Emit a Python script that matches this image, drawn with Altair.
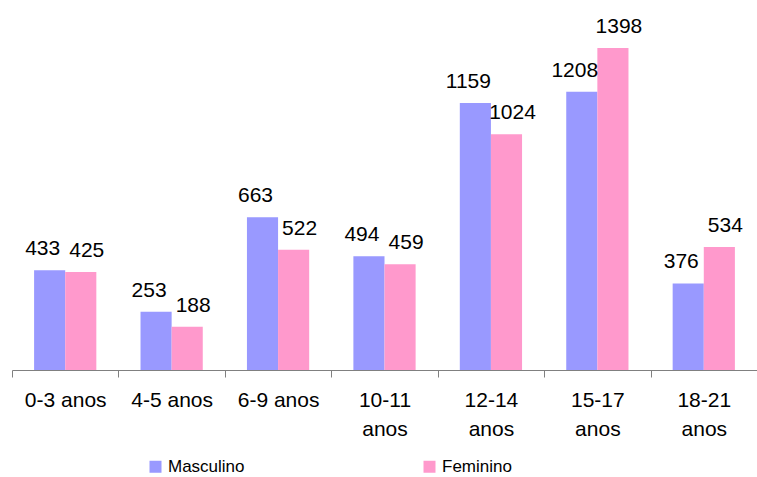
import altair as alt
import pandas as pd

# Age groups and counts per sex
faixas = ["0-3 anos", "4-5 anos", "6-9 anos", "10-11 anos", "12-14 anos", "15-17 anos", "18-21 anos"]
masculino = [433, 253, 663, 494, 1159, 1208, 376]
feminino = [425, 188, 522, 459, 1024, 1398, 534]
series = ["Masculino", "Feminino"]
cores = ["#9999FF", "#FF99CC"]

rows = []
for f, m, w in zip(faixas, masculino, feminino):
    rows.append({"faixa": f, "sexo": "Masculino", "valor": m})
    rows.append({"faixa": f, "sexo": "Feminino", "valor": w})
df = pd.DataFrame(rows)

FONT = "Liberation Sans"

# Full-width bands so the ticks sit on the category boundaries;
# the gap between groups comes from the offset scale's outer padding.
x = alt.X(
    "faixa:N",
    sort=faixas,
    title=None,
    scale=alt.Scale(paddingInner=0, paddingOuter=0),
    axis=alt.Axis(
        labelAngle=0,
        tickBand="extent",
        tickSize=7,
        tickColor="#808080",
        domainColor="#808080",
        labelFontSize=21,
        labelColor="#000000",
        labelPadding=12,
        labelLineHeight=29,
        labelExpr="length(datum.label) > 8 ? split(datum.label, ' ') : datum.label",
    ),
)
xo = alt.XOffset("sexo:N", sort=series, scale=alt.Scale(paddingInner=0, paddingOuter=0.71))
y = alt.Y("valor:Q", axis=None, scale=alt.Scale(domain=[0, 1563], nice=False, zero=True))

bars = alt.Chart(df).mark_bar().encode(
    x=x,
    xOffset=xo,
    y=y,
    color=alt.Color(
        "sexo:N",
        sort=series,
        scale=alt.Scale(domain=series, range=cores),
        legend=alt.Legend(
            title=None,
            orient="none",
            legendX=135,
            legendY=448,
            direction="horizontal",
            symbolType="square",
            symbolSize=144,
            symbolStrokeWidth=0,
            labelFontSize=17,
            labelOffset=4,
            columnPadding=176,
            padding=0,
        ),
    ),
)

def labels(sexo, dx):
    return (
        alt.Chart(df)
        .transform_filter(alt.datum.sexo == sexo)
        .mark_text(baseline="bottom", dy=-11, dx=dx, fontSize=21, color="#000000", font=FONT)
        .encode(x=x, xOffset=xo, y=y, text=alt.Text("valor:Q"))
    )

chart = (
    alt.layer(bars, labels("Masculino", -7), labels("Feminino", 6))
    .properties(
        width=745,
        height=360,
        autosize=alt.AutoSizeParams(type="none"),
        padding={"left": 12, "top": 10, "right": 0, "bottom": 107},
    )
    .configure(font=FONT)
    .configure_view(stroke=None)
    .configure_legend(labelFont=FONT, labelColor="#000000")
    .configure_axis(labelFont=FONT)
)

chart.save("out.html", embed_options={"renderer": "svg", "actions": False})
